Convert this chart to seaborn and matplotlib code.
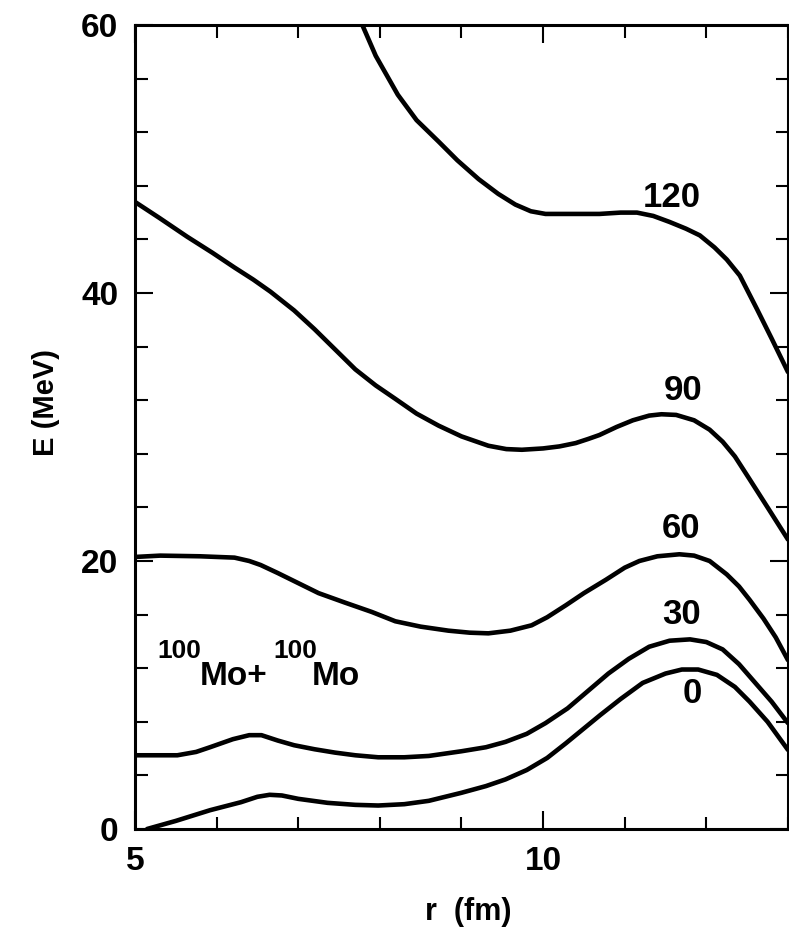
import numpy as np
import pandas as pd
import matplotlib
matplotlib.use("Agg")
import matplotlib.pyplot as plt
import seaborn as sns

# potential curves, one per angular momentum L
r_0 = [5.15, 5.5, 5.92, 6.3, 6.5, 6.65, 6.8, 7.0, 7.36, 7.7, 7.98, 8.3, 8.6, 9.0, 9.3,
       9.54, 9.8, 10.05, 10.28, 10.5, 10.7, 10.95, 11.22, 11.5, 11.7, 11.9, 12.13,
       12.35, 12.53, 12.75, 13.0]
E_0 = [0.0, 0.6, 1.4, 2.0, 2.4, 2.55, 2.5, 2.25, 1.95, 1.8, 1.75, 1.85, 2.1, 2.7, 3.2,
       3.7, 4.4, 5.3, 6.4, 7.5, 8.5, 9.7, 10.9, 11.6, 11.9, 11.9, 11.5,
       10.6, 9.5, 8.0, 5.9]

r_30 = [5.0, 5.52, 5.75, 5.92, 6.2, 6.4, 6.55, 6.75, 6.95, 7.2, 7.45, 7.7, 7.98, 8.3,
        8.6, 9.0, 9.3, 9.54, 9.8, 10.03, 10.3, 10.55, 10.8, 11.05, 11.3, 11.55, 11.8,
        12.0, 12.2, 12.4, 12.6, 12.8, 13.0]
E_30 = [5.5, 5.5, 5.75, 6.1, 6.7, 7.0, 7.0, 6.6, 6.25, 5.95, 5.7, 5.5, 5.35, 5.35,
        5.45, 5.8, 6.1, 6.5, 7.1, 7.9, 9.0, 10.3, 11.6, 12.7, 13.6, 14.05, 14.15,
        13.95, 13.4, 12.3, 10.9, 9.5, 7.9]

r_60 = [5.0, 5.31, 5.8, 6.22, 6.4, 6.54, 6.75, 6.95, 7.25, 7.57, 7.9, 8.19, 8.5, 8.84,
        9.1, 9.33, 9.6, 9.86, 10.05, 10.28, 10.5, 10.77, 11.0, 11.18, 11.4, 11.67,
        11.85, 12.04, 12.25, 12.4, 12.53, 12.7, 12.85, 13.0]
E_60 = [20.3, 20.4, 20.35, 20.25, 20.0, 19.7, 19.1, 18.5, 17.6, 16.9, 16.2, 15.5, 15.1,
        14.8, 14.65, 14.6, 14.8, 15.2, 15.8, 16.7, 17.6, 18.6, 19.5, 20.0, 20.35, 20.5,
        20.4, 20.0, 19.0, 18.1, 17.1, 15.7, 14.3, 12.6]

r_90 = [5.0, 5.3, 5.64, 5.95, 6.22, 6.45, 6.66, 6.95, 7.2, 7.45, 7.7, 7.95, 8.19, 8.45,
        8.72, 9.0, 9.33, 9.55, 9.74, 10.0, 10.2, 10.4, 10.55, 10.69, 10.9, 11.1, 11.3,
        11.45, 11.63, 11.85, 12.04, 12.2, 12.35, 12.53, 12.75, 13.0]
E_90 = [46.8, 45.6, 44.2, 43.0, 41.9, 41.0, 40.1, 38.7, 37.3, 35.8, 34.3, 33.1, 32.1,
        31.0, 30.1, 29.3, 28.6, 28.35, 28.3, 28.4, 28.55, 28.8, 29.1, 29.4, 30.0, 30.5,
        30.85, 30.95, 30.9, 30.5, 29.8, 28.9, 27.8, 26.1, 24.0, 21.6]

r_120 = [7.75, 7.95, 8.22, 8.45, 8.72, 8.95, 9.21, 9.45, 9.66, 9.85, 10.03, 10.3, 10.69,
         10.95, 11.15, 11.35, 11.55, 11.75, 11.92, 12.1, 12.25, 12.41, 12.62, 12.8, 13.0]
E_120 = [60.5, 57.7, 54.8, 52.9, 51.3, 49.9, 48.5, 47.4, 46.6, 46.1, 45.9, 45.9, 45.9,
         46.0, 46.0, 45.75, 45.3, 44.8, 44.3, 43.4, 42.5, 41.3, 38.8, 36.6, 34.1]

L_values = ["0", "30", "60", "90", "120"]
label_x = [11.83, 11.69, 11.69, 11.72, 11.58]
label_y = [10.1, 16.0, 22.4, 32.7, 47.1]

curves = {"0": (r_0, E_0), "30": (r_30, E_30), "60": (r_60, E_60),
          "90": (r_90, E_90), "120": (r_120, E_120)}
df = pd.concat([pd.DataFrame({"r": r, "E": E, "L": L}) for L, (r, E) in curves.items()])

sns.set_style("ticks")
plt.rcParams["font.family"] = ["Liberation Sans", "DejaVu Sans"]
plt.rcParams["font.weight"] = "bold"
for k in ["text.color", "axes.labelcolor", "xtick.color", "ytick.color", "axes.edgecolor"]:
    plt.rcParams[k] = "black"

fig = plt.figure(figsize=(7.89, 9.33), dpi=100)
ax = fig.add_axes([0.171, 0.1115, 0.8277, 0.8617])

sns.lineplot(data=df, x="r", y="E", hue="L", palette={L: "black" for L in L_values},
             linewidth=3.3, legend=False, ax=ax)

ax.set_xlim(5, 13)
ax.set_ylim(0, 60)
ax.set_xticks([5, 10])
ax.set_xticks(np.arange(5, 14, 1), minor=True)
ax.set_yticks([0, 20, 40, 60])
ax.set_yticks(np.arange(0, 61, 4), minor=True)
ax.tick_params(which="both", direction="in", top=True, right=True, width=1.5, color="black")
ax.tick_params(which="major", length=13, labelsize=24, pad=12)
ax.tick_params(which="minor", length=9)
for s in ax.spines.values():
    s.set_linewidth(2.2)
    s.set_color("black")

ax.set_xlabel("r  (fm)", fontsize=22, fontweight="bold")
ax.set_ylabel("E (MeV)", fontsize=21, fontweight="bold")
ax.xaxis.set_label_coords(0.51, -0.085)
ax.yaxis.set_label_coords(-0.115, 0.53)

for t, x, y in zip(L_values, label_x, label_y):
    ax.text(x, y, t, fontsize=25, fontweight="bold", ha="center", va="center")

# reaction label with mass-number superscripts
ax.text(5.27, 12.76, "100", fontsize=19, fontweight="bold", ha="left", va="baseline")
ax.text(5.80, 10.75, "Mo+", fontsize=24, fontweight="bold", ha="left", va="baseline")
ax.text(6.69, 12.76, "100", fontsize=19, fontweight="bold", ha="left", va="baseline")
ax.text(7.17, 10.75, "Mo", fontsize=24, fontweight="bold", ha="left", va="baseline")

fig.savefig("out.png", dpi=100)
